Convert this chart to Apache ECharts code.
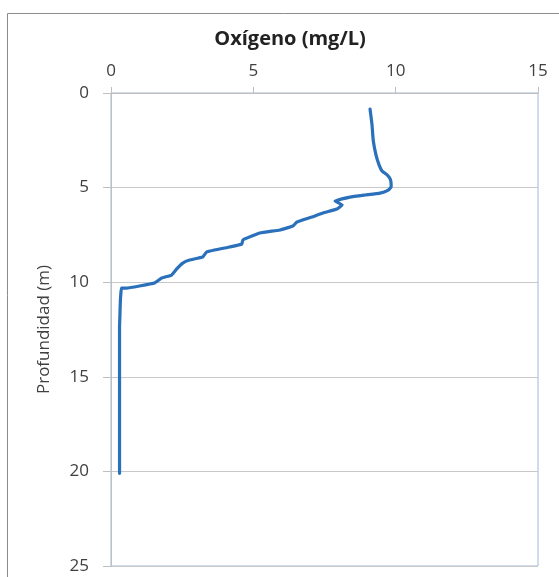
<!DOCTYPE html>
<html>
<head>
<meta charset="utf-8">
<script src="https://cdn.jsdelivr.net/npm/echarts@6/dist/echarts.min.js"></script>
<style>
html,body{margin:0;padding:0;background:#fff;}
#chart{width:559px;height:577px;}
</style>
</head>
<body>
<div id="chart"></div>
<script>
const titleText = "Oxígeno (mg/L)";
const yName = "Profundidad (m)";
const xTicks = [0, 5, 10, 15];
const yTicks = [0, 5, 10, 15, 20, 25];
const oxygen = [9.10, 9.14, 9.17, 9.21, 9.31, 9.42, 9.52, 9.70, 9.81, 9.84, 9.84, 9.74, 9.45, 8.93, 8.40, 7.87, 8.12, 7.94, 7.45, 7.06, 6.53, 6.39, 5.93, 5.23, 4.63, 4.60, 4.17, 3.36, 3.22, 2.76, 2.52, 2.31, 2.13, 1.78, 1.53, 1.00, 0.55, 0.37, 0.35, 0.33, 0.31, 0.30, 0.30, 0.30];
const depth  = [0.85, 1.32, 1.69, 2.48, 3.28, 3.81, 4.12, 4.33, 4.55, 4.81, 4.97, 5.13, 5.29, 5.39, 5.50, 5.71, 5.92, 6.13, 6.34, 6.55, 6.82, 7.03, 7.24, 7.40, 7.77, 7.98, 8.14, 8.40, 8.67, 8.83, 8.99, 9.30, 9.62, 9.78, 10.04, 10.20, 10.31, 10.31, 10.52, 10.94, 11.89, 12.37, 16.2, 20.1];

const chart = echarts.init(document.getElementById('chart'), null, {renderer: 'canvas'});
const pts = oxygen.map((v, i) => [v, depth[i]]);
const font = '"Open Sans", sans-serif';
chart.setOption({
  animation: false,
  backgroundColor: '#fff',
  title: {
    text: titleText,
    left: 285, top: 24, textAlign: 'center',
    textStyle: {fontFamily: font, fontWeight: 'bold', fontSize: 20, color: '#222'}
  },
  graphic: [{
    type: 'rect', silent: true, z: -1,
    shape: {x: 7.5, y: 13.5, width: 600, height: 620},
    style: {fill: 'none', stroke: '#8c8c8c', lineWidth: 1}
  }],
  grid: {left: 111, right: 21, top: 93, bottom: 11, show: true, borderColor: '#9fb8d6', borderWidth: 1},
  xAxis: {
    type: 'value', position: 'top', min: 0, max: 15, interval: 5,
    axisLine: {show: true, lineStyle: {color: '#bfbfbf'}},
    axisTick: {show: true, length: 6, lineStyle: {color: '#bfbfbf'}},
    axisLabel: {fontFamily: font, fontSize: 17, color: '#404040', margin: 13,
      formatter: v => xTicks.includes(v) ? String(v) : ''},
    splitLine: {show: false}
  },
  yAxis: {
    type: 'value', inverse: true, min: 0, max: 25, interval: 5,
    name: yName, nameLocation: 'middle', nameGap: 58, nameRotate: 90,
    nameTextStyle: {fontFamily: font, fontSize: 17, color: '#404040'},
    axisLine: {show: true, lineStyle: {color: '#bfbfbf'}},
    axisTick: {show: true, length: 8, lineStyle: {color: '#bfbfbf'}},
    axisLabel: {fontFamily: font, fontSize: 17, color: '#404040', margin: 22,
      formatter: v => yTicks.includes(v) ? String(v) : ''},
    splitLine: {show: true, lineStyle: {color: '#c8c8c8', width: 1}}
  },
  series: [{
    type: 'line', data: pts, showSymbol: false, smooth: 0.1,
    lineStyle: {color: '#2a70bb', width: 3.2, join: 'round', cap: 'round'},
    clip: false
  }]
});
</script>
</body>
</html>
